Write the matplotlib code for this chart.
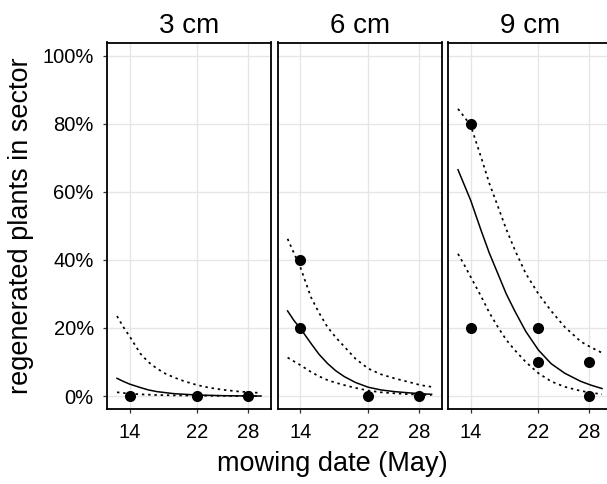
from __future__ import annotations

import matplotlib

matplotlib.use("Agg")
import matplotlib.pyplot as plt
from matplotlib.ticker import FixedLocator, PercentFormatter


FIG_W, FIG_H = 607, 484
DPI = 100

FACETS = ["3 cm", "6 cm", "9 cm"]

# observed proportions per mowing date
OBS_DAY_3 = [14, 22, 28]
OBS_VAL_3 = [0.0, 0.0, 0.0]
OBS_DAY_6 = [14, 14, 22, 28]
OBS_VAL_6 = [0.4, 0.2, 0.0, 0.0]
OBS_DAY_9 = [14, 14, 22, 22, 28, 28]
OBS_VAL_9 = [0.8, 0.2, 0.2, 0.1, 0.1, 0.0]

# fitted curve with confidence band
FIT_DAY = [12.5, 13.25, 14, 15.25, 16.2, 17.2, 18.2, 19.2, 20.5, 22, 23.5, 25.1, 27, 28.2, 29.5]

FIT_3 = [0.052, 0.043, 0.035, 0.025, 0.018, 0.013, 0.010, 0.007, 0.005, 0.003, 0.002, 0.001,
         0.0005, 0.0002, 0.0]
UPR_3 = [0.235, 0.203, 0.175, 0.125, 0.100, 0.081, 0.066, 0.055, 0.043, 0.032, 0.024, 0.018,
         0.013, 0.011, 0.009]
LWR_3 = [0.011, 0.009, 0.007, 0.005, 0.004, 0.003, 0.0025, 0.002, 0.0015, 0.001, 0.0008,
         0.0005, 0.0002, 0.0001, 0.0]

FIT_6 = [0.25, 0.222, 0.199, 0.155, 0.123, 0.096, 0.074, 0.057, 0.04, 0.026, 0.018, 0.013,
         0.009, 0.007, 0.005]
UPR_6 = [0.462, 0.42, 0.379, 0.291, 0.245, 0.203, 0.172, 0.145, 0.11, 0.081, 0.064, 0.052,
         0.04, 0.032, 0.027]
LWR_6 = [0.113, 0.102, 0.091, 0.071, 0.058, 0.047, 0.039, 0.032, 0.024, 0.016, 0.011, 0.008,
         0.005, 0.004, 0.003]

FIT_9 = [0.665, 0.62, 0.575, 0.485, 0.42, 0.36, 0.30, 0.25, 0.19, 0.135, 0.095, 0.067,
         0.043, 0.032, 0.022]
UPR_9 = [0.844, 0.82, 0.795, 0.70, 0.625, 0.558, 0.49, 0.43, 0.36, 0.30, 0.25, 0.203,
         0.16, 0.143, 0.127]
LWR_9 = [0.418, 0.385, 0.35, 0.292, 0.245, 0.203, 0.165, 0.135, 0.10, 0.067, 0.043, 0.027,
         0.015, 0.01, 0.005]

X_TICKS = [14, 22, 28]
Y_TICKS = [0.0, 0.2, 0.4, 0.6, 0.8, 1.0]

# panel boxes in pixels (left, right), shared top/bottom
PANEL_X = [(107.3, 271.0), (277.9, 441.6), (448.3, 612.0)]
PANEL_TOP, PANEL_BOTTOM = 42.5, 409.3

GRID_COLOR = "#E6E6E6"

plt.rcParams["font.family"] = ["Liberation Sans", "DejaVu Sans"]


def panel_rect(left: float, right: float) -> list[float]:
    return [
        left / FIG_W,
        1 - PANEL_BOTTOM / FIG_H,
        (right - left) / FIG_W,
        (PANEL_BOTTOM - PANEL_TOP) / FIG_H,
    ]


def draw_panel(ax, title, obs_day, obs_val, fit, upr, lwr, first: bool) -> None:
    ax.set_xlim(11.356, 30.68)
    ax.set_ylim(-0.039, 1.039)
    ax.xaxis.set_major_locator(FixedLocator(X_TICKS))
    ax.yaxis.set_major_locator(FixedLocator(Y_TICKS))
    ax.yaxis.set_major_formatter(PercentFormatter(1.0, decimals=0))
    ax.grid(True, color=GRID_COLOR, linewidth=1.0)
    ax.set_axisbelow(True)

    dotted = (0, (1.4, 2.2))
    ax.plot(FIT_DAY, upr, color="black", linewidth=1.25, linestyle=dotted, dash_capstyle="butt")
    ax.plot(FIT_DAY, lwr, color="black", linewidth=1.25, linestyle=dotted, dash_capstyle="butt")
    ax.plot(FIT_DAY, fit, color="black", linewidth=1.1)
    ax.plot(obs_day, obs_val, "o", color="black", markersize=8.0, markeredgewidth=0, zorder=3)

    for spine in ax.spines.values():
        spine.set_linewidth(1.3)
        spine.set_color("black")

    ax.tick_params(axis="both", length=3.2, width=0.9, color="#333333",
                   labelsize=14.5, labelcolor="black")
    ax.tick_params(axis="x", pad=6.5)
    ax.tick_params(axis="y", pad=6.5)
    if not first:
        ax.tick_params(axis="y", labelleft=False, length=0)

    ax.set_title(title, fontsize=20, pad=7)


def main() -> None:
    fig = plt.figure(figsize=(FIG_W / DPI, FIG_H / DPI), dpi=DPI)
    series = [
        (OBS_DAY_3, OBS_VAL_3, FIT_3, UPR_3, LWR_3),
        (OBS_DAY_6, OBS_VAL_6, FIT_6, UPR_6, LWR_6),
        (OBS_DAY_9, OBS_VAL_9, FIT_9, UPR_9, LWR_9),
    ]
    for i, (title, (left, right), data) in enumerate(zip(FACETS, PANEL_X, series)):
        ax = fig.add_axes(panel_rect(left, right))
        draw_panel(ax, title, *data, first=(i == 0))

    fig.text(332 / FIG_W, 1 - 464 / FIG_H, "mowing date (May)", fontsize=19.5,
             ha="center", va="center")
    fig.text(21 / FIG_W, 1 - 226 / FIG_H, "regenerated plants in sector", fontsize=19.5,
             ha="center", va="center", rotation=90)

    fig.savefig("out.png", dpi=DPI)
    plt.close(fig)


if __name__ == "__main__":
    main()
